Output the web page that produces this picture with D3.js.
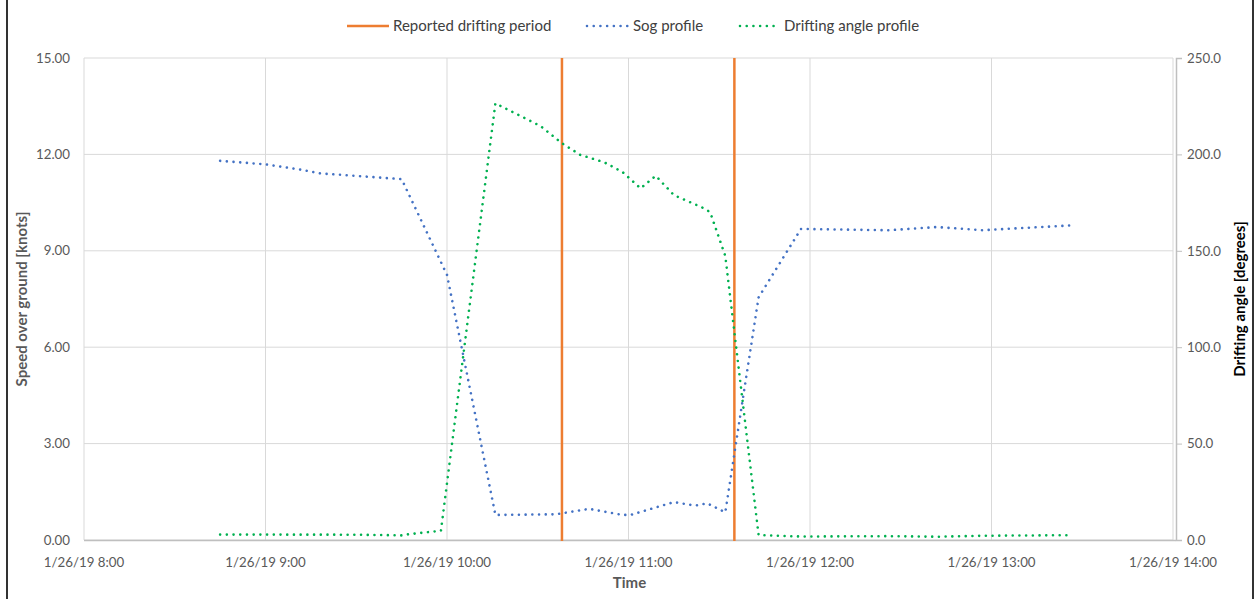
<!DOCTYPE html>
<html>
<head>
<meta charset="utf-8">
<script src="https://cdn.jsdelivr.net/npm/d3@7"></script>
<style>
  html, body { margin: 0; padding: 0; background: #fff; }
  svg { display: block; font-family: Lato, "Open Sans", sans-serif; }
</style>
</head>
<body>
<svg id="chart" width="1255" height="599"></svg>
<script>
// ---- data ----
const xTickTimes = ["8:00", "9:00", "10:00", "11:00", "12:00", "13:00", "14:00"];
const leftTicks = [0, 3, 6, 9, 12, 15];
const rightTicks = [0, 50, 100, 150, 200, 250];

const reportedTimes = ["10:38", "11:35"];

const sogTimes = ["8:45","9:00","9:12","9:18","9:30","9:45","10:00","10:16","10:36","10:47","10:58","11:01","11:15","11:22","11:26","11:32","11:43","11:57","12:26","12:42","12:57","13:26"];
const sogValues = [11.80,11.69,11.52,11.41,11.33,11.23,8.25,0.78,0.80,0.97,0.78,0.79,1.18,1.07,1.14,0.86,7.55,9.68,9.64,9.74,9.64,9.79];

const angleTimes = ["8:45","9:00","9:30","9:45","9:47","9:58","10:16","10:31","10:38","10:44","10:52","10:58","11:04","11:09","11:15","11:25","11:27","11:32","11:43","11:57","12:26","12:42","12:57","13:26"];
const angleValues = [2.8,2.8,2.75,2.4,2.9,4.8,226.5,214.6,205.8,199.8,195.9,190.9,182.4,188.9,178.9,172.0,170.0,147.3,2.6,1.8,2.0,1.7,2.2,2.5];

// ---- helpers ----
const toDate = s => { const [h, m] = s.split(":").map(Number); return new Date(2019, 0, 26, h, m); };

const svg = d3.select("#chart");
const W = 1255, H = 599;
const plot = { left: 84, right: 1173, top: 58, bottom: 540 };

const x = d3.scaleTime().domain([toDate("8:00"), toDate("14:00")]).range([plot.left, plot.right]);
const yL = d3.scaleLinear().domain([0, 15]).range([plot.bottom, plot.top]);
const yR = d3.scaleLinear().domain([0, 250]).range([plot.bottom, plot.top]);

// chart border
svg.append("rect").attr("x", 7).attr("y", -5).attr("width", 1246).attr("height", H + 10)
  .attr("fill", "none").attr("stroke", "#000").attr("stroke-width", 1.6);

const gridColor = "#D9D9D9";
const textColor = "#595959";
const tickFont = 13.3;
const titleFont = 15;

// horizontal gridlines
svg.append("g").selectAll("line").data(leftTicks).join("line")
  .attr("x1", plot.left).attr("x2", plot.right)
  .attr("y1", d => yL(d)).attr("y2", d => yL(d))
  .attr("stroke", gridColor).attr("stroke-width", 1);

// vertical gridlines
svg.append("g").selectAll("line").data(xTickTimes.map(toDate)).join("line")
  .attr("x1", d => x(d)).attr("x2", d => x(d))
  .attr("y1", plot.top).attr("y2", plot.bottom)
  .attr("stroke", gridColor).attr("stroke-width", 1);

// bottom axis line
svg.append("line").attr("x1", plot.left).attr("x2", plot.right + 3)
  .attr("y1", plot.bottom + 0.5).attr("y2", plot.bottom + 0.5)
  .attr("stroke", "#BFBFBF").attr("stroke-width", 1.5);

// left tick labels
svg.append("g").selectAll("text").data(leftTicks).join("text")
  .attr("x", 70).attr("y", d => yL(d)).attr("dy", "0.35em")
  .attr("text-anchor", "end").attr("font-size", tickFont).attr("fill", textColor)
  .text(d3.format(".2f"));

// right axis
const rightAxis = d3.axisRight(yR).tickValues(rightTicks).tickSize(6).tickFormat(d3.format(".1f"));
const gR = svg.append("g").attr("transform", `translate(${plot.right + 3},0)`).call(rightAxis);
gR.select(".domain").attr("stroke", "#BFBFBF").attr("stroke-width", 1.5);
gR.selectAll(".tick line").attr("stroke", "#BFBFBF");
gR.selectAll(".tick text").attr("font-size", tickFont).attr("fill", textColor)
  .attr("font-family", "Lato, 'Open Sans', sans-serif").attr("x", 11);

// x tick labels
const fmtX = d3.timeFormat("%-m/%-d/%y %-H:%M");
svg.append("g").selectAll("text").data(xTickTimes.map(toDate)).join("text")
  .attr("x", d => x(d)).attr("y", 562).attr("dy", "0.35em")
  .attr("text-anchor", "middle").attr("font-size", tickFont).attr("fill", textColor)
  .text(fmtX);

// axis titles
svg.append("text").attr("x", (plot.left + plot.right) / 2 + 1).attr("y", 583).attr("dy", "0.35em")
  .attr("text-anchor", "middle").attr("font-size", titleFont).attr("font-weight", "bold").attr("fill", textColor)
  .text("Time");
svg.append("text").attr("transform", `translate(22,${(plot.top + plot.bottom) / 2}) rotate(-90)`)
  .attr("dy", "0.35em").attr("text-anchor", "middle").attr("font-size", titleFont).attr("font-weight", "bold")
  .attr("fill", textColor).text("Speed over ground [knots]");
svg.append("text").attr("transform", `translate(1240,${(plot.top + plot.bottom) / 2}) rotate(-90)`)
  .attr("dy", "0.35em").attr("text-anchor", "middle").attr("font-size", titleFont).attr("font-weight", "bold")
  .attr("fill", "#000").text("Drifting angle [degrees]");

// reported drifting period lines
const orange = "#ED7D31", blue = "#4472C4", green = "#00B050";
svg.append("g").selectAll("line").data(reportedTimes.map(toDate)).join("line")
  .attr("x1", d => x(d)).attr("x2", d => x(d))
  .attr("y1", yL(0) + 1).attr("y2", yL(15))
  .attr("stroke", orange).attr("stroke-width", 2.5);

const dotted = { "stroke-width": 2.6, "stroke-dasharray": "0.01 6.7", "stroke-linecap": "round", "fill": "none" };

const sogLine = d3.line().x((d, i) => x(toDate(sogTimes[i]))).y(d => yL(d));
const pSog = svg.append("path").datum(sogValues).attr("d", sogLine).attr("stroke", blue);
Object.entries(dotted).forEach(([k, v]) => pSog.attr(k, v));

const angLine = d3.line().x((d, i) => x(toDate(angleTimes[i]))).y(d => yR(d));
const pAng = svg.append("path").datum(angleValues).attr("d", angLine).attr("stroke", green);
Object.entries(dotted).forEach(([k, v]) => pAng.attr(k, v));

// legend
const legend = [
  { name: "Reported drifting period", color: orange, dotted: false, x1: 347, x2: 389, tx: 393 },
  { name: "Sog profile", color: blue, dotted: true, x1: 587, x2: 628, tx: 633 },
  { name: "Drifting angle profile", color: green, dotted: true, x1: 740, x2: 780, tx: 784 }
];
const lg = svg.append("g");
legend.forEach(it => {
  const l = lg.append("line").attr("x1", it.x1).attr("x2", it.x2).attr("y1", 26).attr("y2", 26)
    .attr("stroke", it.color);
  if (it.dotted) Object.entries(dotted).forEach(([k, v]) => l.attr(k, v));
  else l.attr("stroke-width", 2.5);
  lg.append("text").attr("x", it.tx).attr("y", 26).attr("dy", "0.35em").attr("font-size", 15)
    .attr("fill", "#404040").text(it.name);
});
</script>
</body>
</html>
